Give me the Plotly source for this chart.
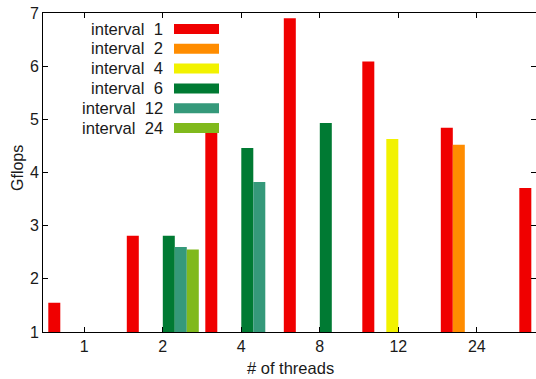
import plotly.graph_objects as go

# ---- data ----
thread_labels = ["1", "2", "4", "8", "12", "24"]
group_index = [0, 1, 2, 3, 4, 5, 6]
series_names = ["interval\u00a0\u00a01", "interval\u00a0\u00a02", "interval\u00a0\u00a04",
                "interval\u00a0\u00a06", "interval\u00a0\u00a012", "interval\u00a0\u00a024"]
interval_1 = [1.55, 2.81, 4.75, 6.90, 6.09, 4.84, 3.71]
interval_2 = [None, None, None, None, None, 4.52, None]
interval_4 = [None, None, None, None, 4.63, None, None]
interval_6 = [None, 2.81, 4.46, 4.93, None, None, None]
interval_12 = [None, 2.60, 3.82, None, None, None, None]
interval_24 = [None, 2.55, None, None, None, None, None]
series_values = [interval_1, interval_2, interval_4, interval_6, interval_12, interval_24]
colors = ["#F00000", "#FF8C00", "#F2F200", "#007A33", "#35997A", "#80B91C"]

FONT = "Liberation Sans"
TXT = "#1a1a1a"

fig = go.Figure()
for name, vals, col in zip(series_names, series_values, colors):
    fig.add_trace(go.Bar(x=group_index, y=vals, name=name,
                         marker=dict(color=col, line=dict(width=0)),
                         showlegend=False))

# manual gnuplot-style key (text right-aligned, swatch on the right)
W, H = 536, 379
L, R, T, B = 43, 0, 13, 47
pw, ph = W - L - R, H - T - B
def px(x):
    return (x - L) / pw
def py(y):
    return (H - B - y) / ph

annotations = []
shapes = []
row0, step = 29, 19.8
for i, (name, col) in enumerate(zip(series_names, colors)):
    yc = row0 + i * step
    annotations.append(dict(x=px(165), y=py(yc), xref="paper", yref="paper",
                            text=name, showarrow=False, xanchor="right",
                            yanchor="middle",
                            font=dict(family=FONT, size=16.6, color=TXT)))
    shapes.append(dict(type="rect", xref="paper", yref="paper",
                       x0=px(174), x1=px(219), y0=py(yc - 5), y1=py(yc + 5),
                       fillcolor=col, line=dict(width=0)))

annotations.append(dict(x=px(290), y=py(368), xref="paper", yref="paper",
                        text="# of threads", showarrow=False,
                        xanchor="center", yanchor="middle",
                        font=dict(family=FONT, size=16.5, color=TXT)))
annotations.append(dict(x=px(17), y=py(168), xref="paper", yref="paper",
                        text="Gflops", showarrow=False, textangle=-90,
                        xanchor="center", yanchor="middle",
                        font=dict(family=FONT, size=16, color=TXT)))

fig.update_layout(
    width=W, height=H,
    margin=dict(l=L, r=R, t=T, b=B, pad=0),
    paper_bgcolor="white", plot_bgcolor="white",
    barmode="group", bargap=0.083, bargroupgap=0,
    showlegend=False,
    annotations=annotations, shapes=shapes,
    font=dict(family=FONT, size=16, color=TXT),
)
fig.update_xaxes(
    range=[-0.526, 5.754], tickmode="array",
    tickvals=group_index[:len(thread_labels)], ticktext=thread_labels,
    ticks="inside", ticklen=5, tickcolor="black", mirror="ticks",
    showline=True, linecolor="black", linewidth=1, showgrid=False,
    zeroline=False, automargin=False,
    tickfont=dict(family=FONT, size=16, color=TXT),
)
fig.update_yaxes(
    range=[1, 7], dtick=1, tick0=1,
    ticks="inside", ticklen=5, tickcolor="black", mirror="ticks",
    showline=True, linecolor="black", linewidth=1, showgrid=False,
    zeroline=False, automargin=False,
    tickfont=dict(family=FONT, size=16, color=TXT),
)

fig.write_html("out.html",
               config={"displayModeBar": False},
               post_script="document.body.style.margin='0';"
                           "document.body.style.overflow='hidden';")
